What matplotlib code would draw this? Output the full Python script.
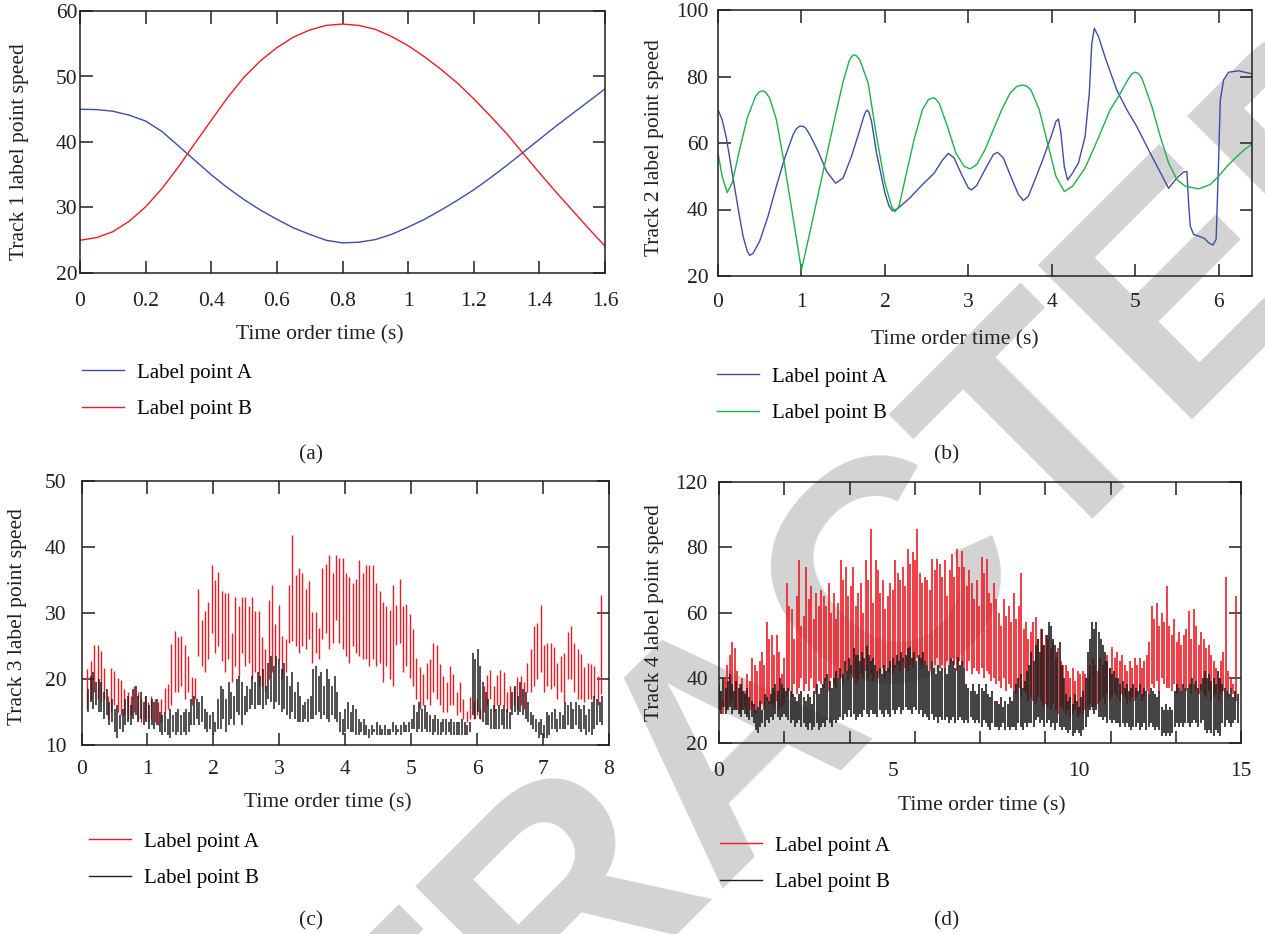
import numpy as np
import matplotlib
matplotlib.use("Agg")
import matplotlib.pyplot as plt
from matplotlib.lines import Line2D

plt.rcParams["font.family"] = ["Liberation Serif", "DejaVu Serif"]

# ---------------- data ----------------
# (a) track 1, samples every 0.05 s
t_a = np.linspace(0, 1.6, 33)
a_A = [45.0, 44.95, 44.7, 44.1, 43.2, 41.6, 39.4, 37.2, 35.0, 33.0, 31.2,
       29.6, 28.2, 26.9, 25.9, 25.0, 24.6, 24.7, 25.1, 25.9, 27.0, 28.2,
       29.6, 31.1, 32.7, 34.5, 36.4, 38.4, 40.4, 42.4, 44.3, 46.2, 48.1]
a_B = [25.0, 25.4, 26.3, 27.9, 30.1, 32.9, 36.2, 39.8, 43.3, 46.8, 49.9,
       52.4, 54.4, 56.0, 57.1, 57.8, 58.0, 57.8, 57.2, 56.1, 54.7, 53.0,
       51.1, 49.0, 46.6, 44.0, 41.3, 38.3, 35.3, 32.4, 29.6, 26.8, 24.1]

# (b) track 2
t_b_A = [0.0, 0.05, 0.1, 0.15, 0.2, 0.25, 0.3, 0.35, 0.38, 0.42,
         0.5, 0.6, 0.7, 0.8, 0.9, 0.94, 0.98, 1.02, 1.05, 1.1, 1.2, 1.3,
         1.41, 1.5, 1.6, 1.7, 1.75, 1.77, 1.79, 1.81, 1.84, 1.9, 2.0, 2.05,
         2.09, 2.15, 2.3, 2.45, 2.59, 2.68, 2.76, 2.83, 2.92, 3.0,
         3.04, 3.1, 3.2, 3.3, 3.35, 3.42, 3.5, 3.6, 3.66, 3.72,
         3.8, 3.9, 4.0, 4.05, 4.08, 4.11, 4.15, 4.19, 4.25, 4.32,
         4.4, 4.45, 4.48, 4.51, 4.56, 4.65, 4.78, 4.9, 5.02, 5.2,
         5.4, 5.5, 5.58, 5.62, 5.64, 5.66, 5.7, 5.78, 5.83, 5.88,
         5.93, 5.97, 6.0, 6.02, 6.06, 6.12, 6.24, 6.4]
b_A = [70, 67, 61.5, 54, 46.5, 39, 32, 27.5, 26.2, 26.8,
       30.5, 38, 47, 55.5, 62.5, 64.3, 65.1, 65.0, 64.5, 62.5, 57.5, 51.5,
       47.9, 49.5, 56, 64, 68.2, 69.4, 69.9, 69.2, 66.5, 57, 45, 41,
       39.6, 40.2, 43.5, 47.5, 50.9, 54.5, 56.9, 55.5, 50.5, 46.5,
       45.9, 47.2, 52, 56.5, 57.2, 55.5, 50.5, 44.5, 42.7, 44,
       49, 55.5, 62.5, 66.5, 67.2, 63, 53, 48.9, 51, 54,
       62, 75, 90, 94.5, 92, 85, 75.9, 70, 64.9, 56,
       46.4, 49.5, 51.3, 51.4, 42, 35, 32.5, 31.8, 31.3, 30,
       29.3, 31, 55, 72.9, 79, 81.3, 81.7, 80.8]
t_b_B = [0.0, 0.05, 0.11, 0.17, 0.25, 0.35, 0.45, 0.49, 0.53, 0.57, 0.62, 0.7,
         0.8, 0.9, 1.0, 1.1, 1.2, 1.3, 1.4, 1.5, 1.57, 1.6, 1.63, 1.66,
         1.7, 1.8, 1.9, 2.0, 2.08, 2.12, 2.17, 2.25, 2.35, 2.45,
         2.52, 2.56, 2.6, 2.65, 2.75, 2.85, 2.95, 3.02, 3.1, 3.2, 3.3,
         3.4, 3.5, 3.58, 3.62, 3.66, 3.7, 3.75, 3.85, 3.95, 4.05, 4.15, 4.25,
         4.4, 4.55, 4.7, 4.8, 4.9, 4.96, 5.0, 5.04, 5.08, 5.2, 5.3, 5.4,
         5.5, 5.6, 5.76, 5.9, 6.0, 6.1, 6.2, 6.3, 6.41]
b_B = [56.9, 50, 45.1, 48, 57, 67.5, 74, 75.3, 75.7, 75.3, 73.5, 67,
       53, 37.5, 21.8, 33, 44.5, 56, 67.5, 78.5, 84.5, 86.0, 86.5, 86.2,
       85, 78, 62, 48, 41, 39.3, 41, 50, 61, 70,
       73, 73.5, 73.5, 72, 65, 57, 53, 52.2, 53.5, 58, 64,
       70, 75, 77, 77.3, 77.4, 77.1, 76, 70, 60, 50, 45.4, 47,
       52.5, 61, 70, 74, 78.5, 80.8, 81.3, 80.9, 79.5, 71, 62, 54,
       49, 47, 46.2, 47.5, 50, 53, 55.5, 57.8, 59.9]

# (c) track 3 : spike tops / bottoms
c_A_hi = [21.5, 22.7, 25.2, 25.2, 24.3, 21.6, 17.5, 21.7, 21.2, 20.2, 19.8,
          18.5, 18, 17.5, 19, 18, 17, 17.5, 16.5, 17.5, 17, 16.5, 17,
          18.7, 19.2, 25.3, 27.3, 26.3, 26.5, 25.2, 23.5, 20.3, 20.2,
          33.6, 29, 30.3, 31.6, 37.2, 35, 36.2, 33.3, 33.1, 33, 27,
          32.5, 31, 32.5, 32.4, 31, 32.5, 30.3, 30.3, 26.3, 24.6, 32, 34.3,
          28.4, 31.2, 26.5, 26, 34.3,
          41.8, 35.7, 36.8, 36, 33.7, 34.8, 30.2, 30.1, 27.8, 36.8, 37.5,
          38.8, 36, 38.8, 38.3, 38.3, 36, 35.5, 34.5,
          35.2, 38, 36, 37.2, 37.2, 37.2, 34.5, 33.3, 31.7, 31, 30.5, 34.2,
          31.2, 35.2, 31, 31.3, 29.8, 27.6, 23.2, 21.8, 20.8, 22.5,
          23, 25.4, 25.2, 22.3, 20.5, 19.5, 21.9, 20.8, 18, 19.5, 17, 15.2,
          17.3, 16.7, 17, 15.5,
          19, 20.6, 21.3, 19, 20.6, 21.4, 21, 18, 19, 18.8, 20.3, 20.4, 19.5,
          22.4, 24.5, 28.1, 28.5, 31.2,
          25.1, 25.5, 25.5, 24.8, 22.5, 23.5, 23.9, 27.1, 28, 25.5, 24.5,
          23.8, 21.8, 22.5, 22.3, 22, 20.5, 32.7]
c_A_lo = [15.5, 17, 18, 17, 16.5, 17, 14, 15, 16, 15, 14.5,
          14.5, 14, 14.5, 15, 14, 13.5, 14, 13.5, 14, 13.5, 13, 13.5,
          15, 15.5, 16, 18, 18, 19, 17, 18, 16, 17,
          23.5, 22, 21, 23, 27, 24, 25, 22.7, 21, 23, 19.5,
          22, 20.5, 24, 22, 22.5, 20, 21, 19, 19, 18, 20, 21,
          22, 23, 20, 21, 25.5,
          25.7, 25, 24, 25, 24.5, 26, 22.5, 24, 23, 26, 27,
          24.5, 25.5, 29, 25.5, 24.5, 23.5, 22.5, 25,
          24, 23.5, 23, 23, 22, 23, 22, 22.5, 19.5, 22, 20, 19,
          25.2, 25.5, 21, 22, 20.2, 19, 17, 15.5, 16, 17,
          16, 18, 17, 16, 15, 15, 16, 16, 14.5, 15, 14, 13.5,
          14, 14, 14.5, 14,
          15, 16, 17, 15, 16, 16, 16, 15, 15.5, 16, 15.5, 16, 15.5,
          18, 18, 19, 20, 21,
          18, 19, 18.5, 19, 17, 18, 16.5, 20, 20, 18, 17,
          17, 16.5, 17, 17, 17, 16, 17.8]
c_B_hi = [18.5, 20.5, 21, 19.5, 20, 19.5, 18, 18.5, 16.5, 17,
          15.5, 16, 14.5, 15.5, 17, 17.5, 16, 18.5, 19, 17.5,
          18, 16.5, 17.5, 16, 17, 16.5, 17, 15, 14.5, 15,
          14, 15.5, 14.5, 15, 15.5, 14.5, 15, 15.5, 15, 17,
          17.5, 17, 16.5, 17.5, 15.5, 15, 14.5, 15, 13.5, 17,
          19, 18.5, 17, 19.5, 18, 17.5, 20, 20.5, 19.5, 17.5,
          19, 18.5, 20.5, 19.5, 21, 20.5, 21.5, 19, 22.5, 23.5,
          22, 23.5, 23, 21.5, 22.5, 20.5, 19, 21, 18, 19.5,
          17.5, 16, 16.5, 17, 17.5, 21.5, 22, 20.5, 21, 19,
          21.5, 20, 19, 20.5, 18, 15, 14, 15.5, 16.5, 15,
          16, 15.5, 14, 13.5, 14, 13, 12.5, 13, 12.5, 13.5,
          13, 12.5, 13, 12.5, 12.5, 13.5, 13, 12.5, 13, 13.5,
          13, 13.5, 14, 16, 15, 16.5, 15.5, 16, 15, 14.5,
          14, 14.5, 14, 13.5, 14, 14, 13.5, 14, 13.5, 13.5,
          13.5, 14, 13.5, 13, 13.5, 24, 23, 24.5, 22, 19.5,
          18, 17, 15.5, 16, 15.5, 16, 15.5, 16, 15.5, 15,
          18, 19, 17.5, 19.5, 18.5, 18, 16.5, 15, 14.5, 14,
          13.5, 14, 13, 15, 14.5, 15, 15.5, 14, 15, 14.5,
          16.5, 16, 16.5, 15.5, 16.5, 16, 15.5, 16, 14.5, 15.5,
          16.5, 17.5, 17, 16.5, 17.5]
c_B_lo = [15, 16.5, 15.5, 16, 15, 15, 14, 14.5, 13, 13.5,
          12, 11, 12.5, 12, 13, 13.5, 13, 14, 14.5, 13.5,
          14, 13, 13.5, 12.5, 13, 12.5, 13, 12, 11.5, 12,
          11.5, 11, 12, 11.5, 12, 11.5, 12, 11.5, 12, 13,
          13, 14, 13, 13.5, 12.5, 12, 12.5, 11.5, 12, 12.5,
          12.5, 14, 12, 13, 14, 13, 15, 14.5, 13, 14.5,
          15, 15.5, 16, 15.5, 16, 16, 15.5, 16, 17, 16.5,
          15.5, 16.5, 16, 15, 15.5, 14.5, 14, 15, 14, 13.5,
          13.5, 13.5, 14, 13.5, 14, 14, 14.5, 15, 14, 14.5,
          14, 13.5, 14.5, 14, 13.5, 12, 11.5, 12, 12.5, 12,
          12, 11.5, 11.5, 12, 11.5, 11.5, 11, 11.5, 12, 11.5,
          11.5, 11.5, 11.5, 11.5, 11.5, 12, 11.5, 12, 11.5, 12,
          12, 12, 12.5, 12.5, 12, 12.5, 12, 12.5, 12, 12,
          11.5, 12, 11.5, 11.5, 12, 11.5, 12, 11.5, 11.5, 11.5,
          11.5, 11.5, 11.5, 11.5, 12, 14.5, 14, 15, 14, 13.5,
          13, 13, 12.5, 12.5, 12.5, 12.5, 13, 12.5, 12.5, 12.5,
          14.5, 15, 14.5, 15, 14.5, 14, 13.5, 13, 12.5, 12,
          11, 11.5, 11, 11, 11.5, 12.5, 12.5, 12, 12.5, 12.5,
          12.5, 13, 12.5, 12.5, 13, 12.5, 12, 12.5, 11.5, 12,
          11.5, 12.5, 13, 13.5, 13]

# (d) track 4 : spike tops / bottoms
d_A_hi = [36, 33, 40, 44, 47, 51, 49,
          42, 38, 40, 36, 41, 39, 46,
          44, 42, 45, 48, 44, 57, 52,
          53, 47, 53, 48, 41, 46, 69,
          62, 61, 52, 65, 76, 56, 59,
          74, 64, 68, 58, 66, 62, 67,
          65, 62, 69, 60, 66, 58, 63,
          76, 70, 74, 65, 68, 74, 62,
          66, 69, 60, 76, 70, 85.5, 63,
          76, 73, 66, 70, 61, 65, 69,
          67, 76, 72, 70, 74, 68, 79.5,
          75, 78.5, 76, 85.5, 72, 69, 71,
          70, 67, 76.5, 73, 76.5, 75, 71,
          76, 65, 73, 78, 71, 79.6, 74,
          79, 74, 68, 73, 69, 64, 70,
          62, 77, 72, 76.5, 66, 63, 69,
          64, 60, 56, 64, 59, 62, 57,
          66, 58, 62, 72, 55, 57, 52,
          54, 57, 58.6, 52, 55, 50, 53,
          52, 49, 51, 46, 49, 45, 44,
          44, 42, 40, 43, 39, 42, 41,
          42, 41, 40, 44, 46, 44, 42,
          46, 44, 45, 47, 43, 49.5, 46,
          48, 45, 47, 44, 42, 45, 43,
          46, 44, 46, 43, 45, 47, 51,
          62, 58, 63, 56, 60, 57, 68,
          56, 53, 58, 51, 54, 50, 53,
          55, 60.5, 52, 61, 56, 50, 54,
          52, 49, 50, 47, 45, 43, 40,
          45, 48, 71, 42, 40, 38, 65]
d_A_lo = [30, 29, 31, 30, 32, 33, 31,
          30, 29, 30, 31, 29, 30, 31,
          29, 30, 31, 32, 30, 33, 32,
          32, 31, 33, 30, 31, 32, 34,
          36, 34, 38, 35, 37, 40, 36,
          38, 36, 40, 37, 35, 39, 38,
          37, 39, 36, 40, 38, 37, 40,
          40, 38, 42, 39, 41, 40, 38,
          39, 41, 40, 42, 40, 41, 39,
          42, 40, 41, 43, 40, 42, 41,
          41, 43, 44, 42, 45, 43, 42,
          44, 43, 45, 46, 44, 43, 45,
          44, 42, 45, 44, 46, 43, 44,
          43, 45, 44, 46, 44, 42, 45,
          44, 43, 42, 45, 41, 43, 42,
          41, 43, 40, 42, 41, 39, 40,
          38, 39, 37, 40, 36, 38, 37,
          36, 35, 37, 34, 36, 35, 33,
          34, 33, 32, 34, 33, 31, 32,
          31, 30, 32, 30, 29, 31, 30,
          29, 30, 28, 29, 30, 28, 29,
          29, 30, 31, 32, 30, 31, 32,
          33, 34, 32, 35, 33, 34, 35,
          34, 33, 35, 34, 32, 33, 34,
          33, 34, 35, 33, 34, 36, 35,
          38, 37, 39, 36, 40, 38, 37,
          37, 36, 38, 35, 37, 36, 37,
          36, 37, 35, 38, 36, 35, 36,
          35, 34, 36, 33, 34, 35, 33,
          35, 36, 36, 34, 37, 35, 33]
d_B_hi = [38, 36, 40, 37, 39, 41, 38, 36,
          39, 37, 38, 36, 35, 37, 34, 33,
          32, 30, 31, 33, 30, 35, 34, 33,
          35, 37, 38, 36, 40, 38, 37, 36,
          37, 36, 35, 34, 33, 35, 36, 34,
          33, 35, 34, 32, 36, 38, 35, 37,
          38, 40, 41, 39, 37, 40, 42, 40,
          43, 41, 45, 42, 46, 44, 49, 47,
          47, 45, 48, 46, 49.6, 47, 45, 46,
          44, 42, 43, 41, 44, 42, 43, 45,
          46, 44, 47, 45, 48, 46, 47, 49,
          49.5, 46, 48, 45, 47, 46, 48, 45,
          44, 42, 45, 43, 41, 44, 42, 43,
          43, 41, 44, 46, 45, 43, 46.5, 44,
          45, 43, 38, 37, 36, 38, 36, 35,
          38, 37, 36, 38, 35, 34, 36, 33,
          33, 32, 34, 31, 33, 32, 34, 33,
          36, 38, 40, 41, 37, 39, 42, 44,
          48, 45, 50, 52, 48, 55, 50, 53,
          57, 56, 52, 50, 48, 51, 44, 40,
          35, 33, 34, 32, 35, 33, 31, 34,
          36, 40, 48, 52, 57, 55, 57, 54,
          52, 50, 48, 45, 43, 41, 42, 40,
          40, 38, 39, 37, 38, 36, 37, 38,
          37, 36, 38, 35, 37, 36, 35, 37,
          36, 35, 34, 36, 31, 30, 32, 30,
          31, 30, 36, 38, 37, 36, 38, 37,
          37, 38, 40, 38, 39, 37, 38, 40,
          42, 40, 41, 39, 40, 38, 42, 40,
          38, 37, 36, 35, 37, 34, 36, 35]
d_B_lo = [30, 29, 31, 29, 30, 31, 29, 30,
          30, 29, 28, 30, 29, 28, 27, 28,
          26, 24, 23, 25, 26, 25, 27, 26,
          28, 27, 29, 28, 27, 28, 29, 28,
          27, 26, 27, 25, 26, 27, 25, 26,
          25, 24, 26, 24, 25, 26, 24, 25,
          26, 25, 27, 26, 25, 27, 26, 27,
          28, 27, 29, 28, 30, 28, 29, 27,
          28, 29, 28, 30, 29, 28, 30, 29,
          29, 28, 30, 29, 28, 30, 29, 28,
          30, 29, 30, 31, 29, 30, 31, 30,
          30, 29, 31, 30, 29, 30, 28, 29,
          28, 27, 29, 27, 28, 26, 28, 27,
          27, 28, 26, 27, 28, 26, 27, 28,
          27, 26, 27, 26, 28, 27, 26, 27,
          26, 25, 27, 26, 25, 24, 26, 25,
          25, 24, 25, 26, 24, 25, 24, 25,
          25, 24, 26, 25, 24, 26, 25, 26,
          26, 25, 27, 28, 26, 27, 25, 26,
          27, 25, 26, 24, 26, 25, 24, 25,
          24, 23, 24, 22, 23, 24, 23, 22,
          24, 25, 28, 30, 31, 29, 30, 28,
          28, 27, 28, 26, 27, 26, 27, 26,
          26, 25, 26, 25, 26, 25, 24, 25,
          25, 26, 24, 25, 26, 24, 25, 26,
          25, 24, 25, 24, 22, 23, 22, 23,
          22, 23, 25, 26, 25, 26, 25, 26,
          26, 25, 26, 27, 26, 25, 26, 27,
          24, 23, 24, 23, 22, 24, 23, 22,
          26, 25, 27, 26, 25, 26, 27, 26]

a_xticks = [0, 0.2, 0.4, 0.6, 0.8, 1.0, 1.2, 1.4, 1.6]
a_xlabels = ["0", "0.2", "0.4", "0.6", "0.8", "1", "1.2", "1.4", "1.6"]
d_xlabel_pos = [0, 5, 10.35, 15]
d_xlabels = ["0", "5", "10", "15"]
d_yticks = [20, 40, 60, 80, 100]
d_ylabels = ["20", "40", "60", "80", "120"]

# ---------------- figure ----------------
W, H = 1265, 934
FS = 15.5
DARK = "#231f20"
BLUE = "#3c4fa3"
RED = "#ed1c24"
GREEN = "#1fb04b"

fig = plt.figure(figsize=(W / 100, H / 100), dpi=100)

# watermark, behind everything
fig.text(735 / W, 1 - 740 / H, "RETRACTED", fontsize=228, rotation=45,
         color="#d3d3d3", ha="center", va="center", family="Liberation Sans",
         weight="bold", zorder=-1, rotation_mode="anchor")


def make_axes(l, r, t, b):
    ax = fig.add_axes([l / W, 1 - b / H, (r - l) / W, (b - t) / H])
    ax.set_facecolor("none")
    for s in ax.spines.values():
        s.set_color(DARK)
        s.set_linewidth(1.1)
    return ax, (l, r, t, b)


def finish(ax, box, ylabel, xpad, ypad, xl_center, yl_center, leg_top, leg_x,
           cap, handles):
    l, r, t, b = box
    w, h = r - l, b - t
    ax.tick_params(which="major", direction="in", length=9, width=1.1,
                   color=DARK, top=True, right=True, labelsize=FS,
                   labelcolor=DARK)
    ax.tick_params(axis="x", which="both", pad=xpad)
    ax.tick_params(axis="y", pad=ypad)
    ax.set_xlabel("Time order time (s)", fontsize=FS, color=DARK, va="center")
    ax.xaxis.set_label_coords((xl_center[0] - l) / w, (b - xl_center[1]) / h)
    ax.set_ylabel(ylabel, fontsize=FS, color=DARK, va="center")
    ax.yaxis.set_label_coords((yl_center[0] - l) / w, (b - yl_center[1]) / h)
    ax.legend(handles=handles, loc="upper left",
              bbox_to_anchor=((leg_x - l) / w, (b - leg_top) / h),
              frameon=False, fontsize=15, handlelength=2.0,
              handletextpad=0.65, labelspacing=0.8, borderpad=0,
              borderaxespad=0)
    fig.text(cap[0] / W, 1 - cap[1] / H, cap[2], fontsize=FS, color=DARK,
             ha="center", va="center")


# (a)
ax, box = make_axes(80, 605, 11, 273)
ax.plot(t_a, a_A, color=BLUE, lw=1.0)
ax.plot(t_a, a_B, color=RED, lw=1.0)
ax.set_xlim(0, 1.6)
ax.set_ylim(20, 60)
ax.set_xticks(a_xticks, a_xlabels)
ax.set_yticks([20, 30, 40, 50, 60])
finish(ax, box, "Track 1 label point speed", 14, 2, (320, 335), (20, 152),
       363, 82, (311, 455, "(a)"),
       [Line2D([], [], color=BLUE, lw=1.0, label="Label point A"),
        Line2D([], [], color=RED, lw=1.0, label="Label point B")])

# (b)
ax, box = make_axes(718, 1252, 10, 276)
ax.plot(t_b_A, b_A, color=BLUE, lw=1.0)
ax.plot(t_b_B, b_B, color=GREEN, lw=1.0)
ax.set_xlim(0, 6.4)
ax.set_ylim(20, 100)
ax.set_xticks([0, 1, 2, 3, 4, 5, 6])
ax.set_yticks([20, 40, 60, 80, 100])
finish(ax, box, "Track 2 label point speed", 12, 7, (955, 340), (654, 148),
       367, 717, (947, 455, "(b)"),
       [Line2D([], [], color=BLUE, lw=1.0, label="Label point A"),
        Line2D([], [], color=GREEN, lw=1.0, label="Label point B")])

# (c)
ax, box = make_axes(81.5, 609, 481, 745)
t_cA = np.linspace(0.09, 7.88, len(c_A_hi))
t_cB = np.linspace(0.1, 7.9, len(c_B_hi))
ax.vlines(t_cA, c_A_lo, c_A_hi, color=RED, lw=1.0, zorder=2)
ax.vlines(t_cB, c_B_lo, c_B_hi, color=DARK, lw=1.1, zorder=3)
ax.set_xlim(0, 8)
ax.set_ylim(10, 50)
ax.set_xticks([0, 1, 2, 3, 4, 5, 6, 7, 8])
ax.set_yticks([10, 20, 30, 40, 50])
finish(ax, box, "Track 3 label point speed", 11, 11, (328, 803), (18, 617),
       832, 89, (311, 921, "(c)"),
       [Line2D([], [], color=RED, lw=1.0, label="Label point A"),
        Line2D([], [], color=DARK, lw=1.0, label="Label point B")])

# (d)
ax, box = make_axes(719, 1241, 482, 743)
t_dA = np.linspace(0.03, 14.85, len(d_A_hi))
t_dB = np.linspace(0.0, 14.9, len(d_B_hi))
ax.vlines(t_dA, d_A_lo, d_A_hi, color=RED, lw=1.2, zorder=2)
ax.vlines(t_dB, d_B_lo, d_B_hi, color=DARK, lw=1.2, zorder=3)
ax.set_xlim(0, 15)
ax.set_ylim(20, 100)
ax.xaxis.remove_overlapping_locs = False
ax.set_xticks(np.linspace(0, 15, 9), [""] * 9)
ax.set_xticks(d_xlabel_pos, d_xlabels, minor=True)
ax.tick_params(axis="x", which="minor", length=0, labelsize=FS,
               labelcolor=DARK)
ax.set_yticks(d_yticks, d_ylabels)
finish(ax, box, "Track 4 label point speed", 14, 8, (982, 806), (654, 613),
       836, 720, (947, 921, "(d)"),
       [Line2D([], [], color=RED, lw=1.0, label="Label point A"),
        Line2D([], [], color=DARK, lw=1.0, label="Label point B")])

fig.savefig("out.png", dpi=100, facecolor="white")
